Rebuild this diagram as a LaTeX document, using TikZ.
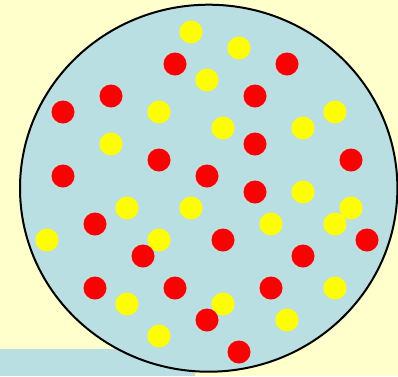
\documentclass[tikz,border=0pt]{standalone}
\begin{document}
\begin{tikzpicture}[x=1pt,y=-1pt,
  reddot/.style={fill=red},
  yellowdot/.style={fill={rgb,255:red,255;green,255;blue,0}}]
\definecolor{bgyellow}{RGB}{255,255,204}
\definecolor{lightblue}{RGB}{185,223,227}
\fill[bgyellow] (0,0) rectangle (398,376);
\useasboundingbox (0,0) rectangle (398,376);
\fill[lightblue] (0,349) rectangle (195,376);
\draw[line width=2pt, fill=lightblue] (208.7,188.2) ellipse [x radius=188.7, y radius=183.5];
\foreach \x/\y in {191/32,239/48,207/80,159/112,335/112,111/144,223/128,303/128,303/192,127/208,191/208,351/208,271/224,335/224,47/240,159/240,335/288,127/304,223/304,287/320,159/336}
  \fill[yellowdot] (\x,\y) circle (11.5);
\foreach \x/\y in {175/64,287/64,111/96,255/96,63/112,255/144,159/160,351/160,63/176,207/176,255/192,95/224,223/240,367/240,143/256,303/256,95/288,175/288,271/288,207/320,239/352}
  \fill[reddot] (\x,\y) circle (11.5);
\end{tikzpicture}
\end{document}
